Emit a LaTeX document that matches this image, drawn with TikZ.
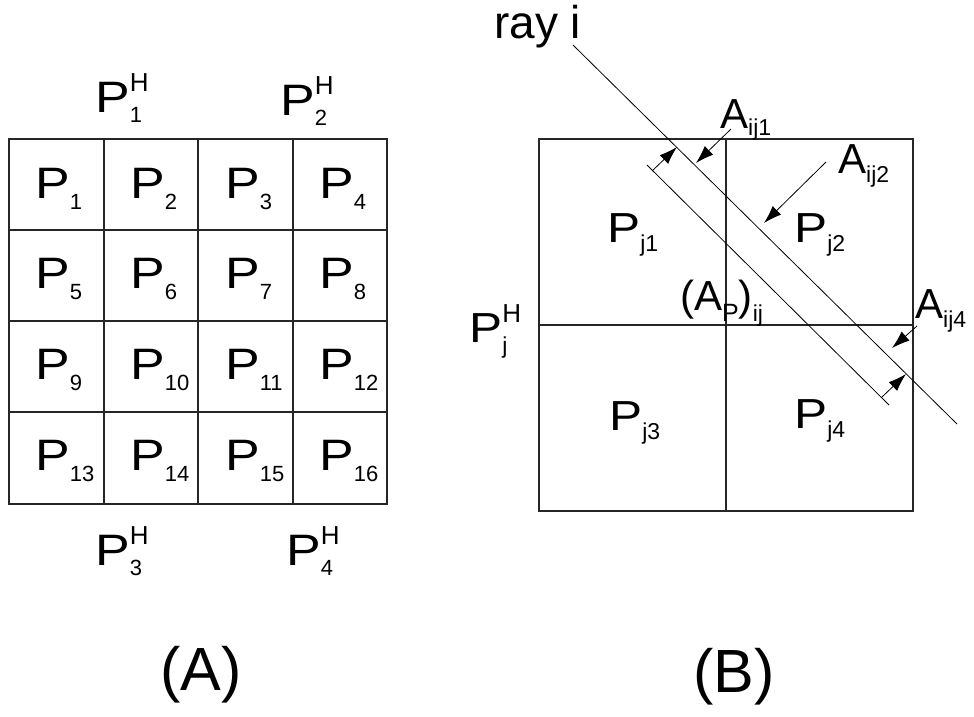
\documentclass[tikz,border=0pt]{standalone}
\usepackage{fontspec}
\setmainfont{Liberation Sans}
\usetikzlibrary{arrows.meta}
\newcommand\bigF{\fontsize{44}{44}\selectfont}
\newcommand\midF{\fontsize{42}{42}\selectfont}
\newcommand\subF{\fontsize{22}{22}\selectfont}
\newcommand\subG{\fontsize{23}{23}\selectfont}
\newcommand\supF{\fontsize{26}{26}\selectfont}
\newcommand\PP{\scalebox{1.18}[1]{P}}
\newcommand\Pcell[1]{\PP\raisebox{-11pt}{\subF #1}}
\newcommand\PHigh[1]{\PP\rlap{\raisebox{21pt}{\supF H}}\raisebox{-10pt}{\subF #1}}
\newcommand\Rsub[2]{#1\raisebox{-9pt}{\subG #2}}
\begin{document}
\begin{tikzpicture}[x=1pt,y=-1pt,
  lbl/.style={anchor=base west,inner sep=0pt,font=\bigF},
  rlbl/.style={anchor=base west,inner sep=0pt,font=\midF},
  gridline/.style={line width=1.1pt,draw=black!85},
  rayline/.style={line width=0.8pt},
  arr/.style={line width=0.8pt,-{Latex[length=18pt,width=12pt]}}]
\useasboundingbox (0,0) rectangle (974,716);
% ---- (A) grid
\draw[gridline] (9,139) rectangle (387,504);
\foreach \x in {104,198,293} \draw[gridline] (\x,139) -- (\x,504);
\foreach \y in {230,321,412} \draw[gridline] (9,\y) -- (387,\y);
\foreach \c/\xx in {0/35,1/130,2/225,3/319}{
  \foreach \r/\yy in {0/198,1/288,2/379,3/470}{
    \pgfmathtruncatemacro{\n}{\r*4+\c+1}
    \node[lbl] (p\n) at (\xx,\yy) {\Pcell{\n}};
  }
}
\node[lbl] (h1) at (95,112) {\PHigh{1}};
\node[lbl] (h2) at (280,115) {\PHigh{2}};
\node[lbl] (h3) at (95,565) {\PHigh{3}};
\node[lbl] (h4) at (286,565) {\PHigh{4}};
\node[anchor=base,inner sep=0pt,font=\fontsize{61}{61}\selectfont] (capA) at (201,690) {(A)};
% ---- (B)
\draw[gridline] (539,139) rectangle (913,511);
\draw[gridline] (726,139) -- (726,511);
\draw[gridline] (539,325) -- (913,325);
\node[rlbl] (hj) at (469,342) {\PP\rlap{\raisebox{20pt}{\supF H}}\raisebox{-11pt}{\subG j}};
\node[rlbl] (pj1) at (607,242) {\Rsub{\PP}{j1}};
\node[rlbl] (pj2) at (794,242) {\Rsub{\PP}{j2}};
\node[rlbl] (pj3) at (609,430) {\Rsub{\PP}{j3}};
\node[rlbl] (pj4) at (794,428) {\Rsub{\PP}{j4}};
\node[rlbl] (a1) at (720,128) {A\raisebox{-7pt}{\subG ij1}};
\node[rlbl] (a2) at (838,173) {A\raisebox{-9pt}{\subG ij2}};
\node[rlbl] (a4) at (915,318) {A\raisebox{-9pt}{\subG ij4}};
\node[rlbl] (ap) at (680,310) {(A\raisebox{-11pt}{\fontsize{25}{25}\selectfont P})\raisebox{-11pt}{\subG ij}};
\node[anchor=base west,inner sep=0pt,font=\fontsize{46}{46}\selectfont] (ray) at (494,38) {ray i};
\node[anchor=base,inner sep=0pt,font=\fontsize{61}{61}\selectfont] (capB) at (734,692) {(B)};
% ray lines
\coordinate (r0) at (573,45);
\coordinate (r1) at (957,424);
\coordinate (s0) at (647,165);
\coordinate (s1) at (889,405);
\draw[rayline] (r0) -- (r1);
\draw[rayline] (s0) -- (s1);
\coordinate (t1a) at (652,171); \coordinate (t1b) at (677,147);
\coordinate (t2a) at (882,397); \coordinate (t2b) at (906,374);
\draw[arr] (t1a) -- (t1b);
\draw[arr] (t2a) -- (t2b);
\coordinate (a1s) at (731,129); \coordinate (a1e) at (696,163);
\coordinate (a2s) at (826,162); \coordinate (a2e) at (764,223);
\coordinate (a4s) at (917,326); \coordinate (a4e) at (892,348);
\draw[arr] (a1s) -- (a1e);
\draw[arr] (a2s) -- (a2e);
\draw[arr] (a4s) -- (a4e);
\end{tikzpicture}
\end{document}
